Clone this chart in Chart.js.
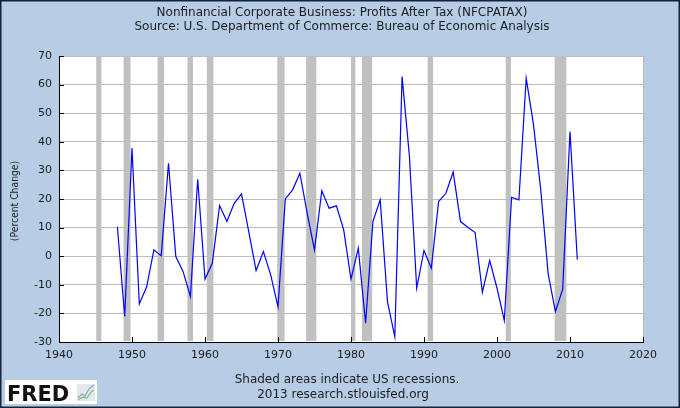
<!DOCTYPE html>
<html>
<head>
<meta charset="utf-8">
<script src="https://cdn.jsdelivr.net/npm/chart.js@4"></script>
<style>
  html, body { margin: 0; padding: 0; background: #b6cde5; }
  #wrap { width: 680px; height: 408px; position: relative; }
</style>
</head>
<body>
<div id="wrap"><canvas id="fred-chart" width="680" height="408"></canvas></div>
<script>
// annual percent change
const years = [
  1948, 1949, 1950, 1951, 1952, 1953, 1954, 1955, 1956, 1957,
  1958, 1959, 1960, 1961, 1962, 1963, 1964, 1965, 1966, 1967,
  1968, 1969, 1970, 1971, 1972, 1973, 1974, 1975, 1976, 1977,
  1978, 1979, 1980, 1981, 1982, 1983, 1984, 1985, 1986, 1987,
  1988, 1989, 1990, 1991, 1992, 1993, 1994, 1995, 1996, 1997,
  1998, 1999, 2000, 2001, 2002, 2003, 2004, 2005, 2006, 2007,
  2008, 2009, 2010, 2011
];
const pctChange = [
  10.3, -21.1, 37.8, -16.7, -10.8, 2.2, 0.1, 32.5, -0.1, -5.4,
  -14.1, 26.9, -8.0, -2.5, 17.7, 12.1, 18.5, 21.8, 8.5, -5.0,
  1.6, -6.5, -17.7, 20.0, 23.2, 29.0, 15.0, 2.2, 22.9, 16.8,
  17.6, 9.2, -8.0, 2.8, -23.4, 12.1, 19.7, -16.0, -28.1, 62.8,
  35.0, -11.2, 2.0, -4.2, 19.1, 22.0, 29.4, 12.1, 10.1, 8.3,
  -12.6, -1.5, -11.2, -22.5, 20.6, 19.7, 62.2, 46.0, 23.0, -6.0,
  -19.4, -11.5, 43.6, -1.2
];

// US recessions (decimal years)
const recessionStart = [1945.1, 1948.85, 1953.5, 1957.6, 1960.25, 1969.9, 1973.85, 1980.0, 1981.5, 1990.5, 2001.2, 2007.9];
const recessionEnd   = [1945.8, 1949.8, 1954.4, 1958.35, 1961.15, 1970.9, 1975.25, 1980.6, 1982.9, 1991.25, 2001.9, 2009.5];

const xTicks = [1940, 1950, 1960, 1970, 1980, 1990, 2000, 2010, 2020];
const yTicks = [-30, -20, -10, 0, 10, 20, 30, 40, 50, 60, 70];

const titleLines = [
  'Nonfinancial Corporate Business: Profits After Tax (NFCPATAX)',
  'Source: U.S. Department of Commerce: Bureau of Economic Analysis'
];
const yTitle = '(Percent Change)';
const footerLines = ['Shaded areas indicate US recessions.', '2013 research.stlouisfed.org'];

const FONT = '"DejaVu Sans", Verdana, sans-serif';
const TEXT = '#1c1c1c';

const fredFrame = {
  id: 'fredFrame',
  beforeDraw(chart) {
    const ctx = chart.ctx;
    const { left, right, top, bottom } = chart.chartArea;
    ctx.save();
    ctx.fillStyle = '#b6cde5';
    ctx.fillRect(0, 0, chart.width, chart.height);
    ctx.fillStyle = '#ffffff';
    ctx.fillRect(left, top, right - left, bottom - top);

    // titles
    ctx.fillStyle = TEXT;
    ctx.font = '12px ' + FONT;
    ctx.textAlign = 'center';
    ctx.textBaseline = 'middle';
    ctx.fillText(titleLines[0], 342, 12.5);
    ctx.fillText(titleLines[1], 342, 27);
    ctx.fillText(footerLines[0], 347, 379.5);
    ctx.fillText(footerLines[1], 343, 394.5);

    // y axis title, a bit condensed like the original
    ctx.save();
    ctx.translate(15, (top + bottom) / 2 + 2);
    ctx.rotate(-Math.PI / 2);
    ctx.scale(0.84, 1);
    ctx.font = '11px ' + FONT;
    ctx.fillText(yTitle, 0, 0);
    ctx.restore();

    // FRED logo
    ctx.fillStyle = '#ffffff';
    ctx.fillRect(5, 380, 92, 24);
    ctx.fillStyle = '#111111';
    ctx.font = 'bold 21px ' + FONT;
    ctx.textAlign = 'left';
    ctx.textBaseline = 'alphabetic';
    ctx.fillText('FRED', 7, 400.5);
    ctx.fillStyle = '#e4e8ec';
    ctx.fillRect(77, 384, 18, 17);
    ctx.lineWidth = 1.2;
    ctx.strokeStyle = '#7fa9cf';
    ctx.beginPath();
    ctx.moveTo(78, 398); ctx.lineTo(82, 394); ctx.lineTo(85, 396); ctx.lineTo(89, 389); ctx.lineTo(94, 385);
    ctx.stroke();
    ctx.strokeStyle = '#8fbf6a';
    ctx.beginPath();
    ctx.moveTo(78, 400); ctx.lineTo(83, 397); ctx.lineTo(87, 398); ctx.lineTo(91, 392); ctx.lineTo(94, 390);
    ctx.stroke();
    ctx.restore();
  },
  beforeDatasetsDraw(chart) {
    const ctx = chart.ctx;
    const { top, bottom, left, right } = chart.chartArea;
    const xs = chart.scales.x;
    const ys = chart.scales.y;
    ctx.save();
    ctx.fillStyle = '#c0c0c0';
    recessionStart.forEach((s, i) => {
      const x0 = xs.getPixelForValue(s);
      const x1 = xs.getPixelForValue(recessionEnd[i]);
      ctx.fillRect(x0, top, x1 - x0, bottom - top - 1);
    });
    // right edge
    ctx.strokeStyle = '#b8b8b8';
    ctx.lineWidth = 1;
    ctx.beginPath();
    ctx.moveTo(right + 0.5, top);
    ctx.lineTo(right + 0.5, bottom);
    ctx.stroke();
    // inward tick marks
    ctx.strokeStyle = '#000000';
    ctx.beginPath();
    yTicks.forEach(v => {
      const y = Math.round(ys.getPixelForValue(v)) + 0.5;
      ctx.moveTo(left, y);
      ctx.lineTo(left + 5, y);
    });
    xTicks.forEach(v => {
      const x = Math.round(xs.getPixelForValue(v)) + 0.5;
      ctx.moveTo(x, bottom);
      ctx.lineTo(x, bottom - 5);
    });
    ctx.stroke();
    ctx.restore();
  },
  afterDraw(chart) {
    const ctx = chart.ctx;
    ctx.save();
    ctx.strokeStyle = '#15233a';
    ctx.lineWidth = 3;
    ctx.strokeRect(0, 0, chart.width, chart.height);
    ctx.restore();
  }
};

new Chart(document.getElementById('fred-chart'), {
  type: 'line',
  data: {
    datasets: [{
      label: 'NFCPATAX',
      data: years.map((y, i) => ({ x: y, y: pctChange[i] })),
      borderColor: '#0000ff',
      borderWidth: 1.2,
      pointRadius: 0,
      tension: 0,
      fill: false
    }]
  },
  options: {
    responsive: false,
    animation: false,
    devicePixelRatio: 1,
    layout: { padding: { left: 0, top: 56, right: 37, bottom: 0 } },
    plugins: { legend: { display: false }, tooltip: { enabled: false } },
    scales: {
      x: {
        type: 'linear',
        min: 1940,
        max: 2020,
        afterFit: s => { s.height = 66; },
        afterBuildTicks: s => { s.ticks = xTicks.map(v => ({ value: v })); },
        grid: { display: false, drawTicks: false },
        border: { display: true, color: '#000000', width: 1 },
        ticks: {
          padding: 7,
          color: TEXT,
          font: { family: FONT, size: 11 },
          maxRotation: 0,
          callback: v => String(v)
        }
      },
      y: {
        min: -30,
        max: 70,
        afterFit: s => { s.width = 59; },
        afterBuildTicks: s => { s.ticks = yTicks.map(v => ({ value: v })); },
        grid: { color: '#bcbcbc', lineWidth: 1, drawTicks: false },
        border: { display: true, color: '#000000', width: 1 },
        ticks: {
          padding: 7,
          color: TEXT,
          font: { family: FONT, size: 11 },
          callback: v => String(v)
        }
      }
    }
  },
  plugins: [fredFrame]
});
</script>
</body>
</html>
